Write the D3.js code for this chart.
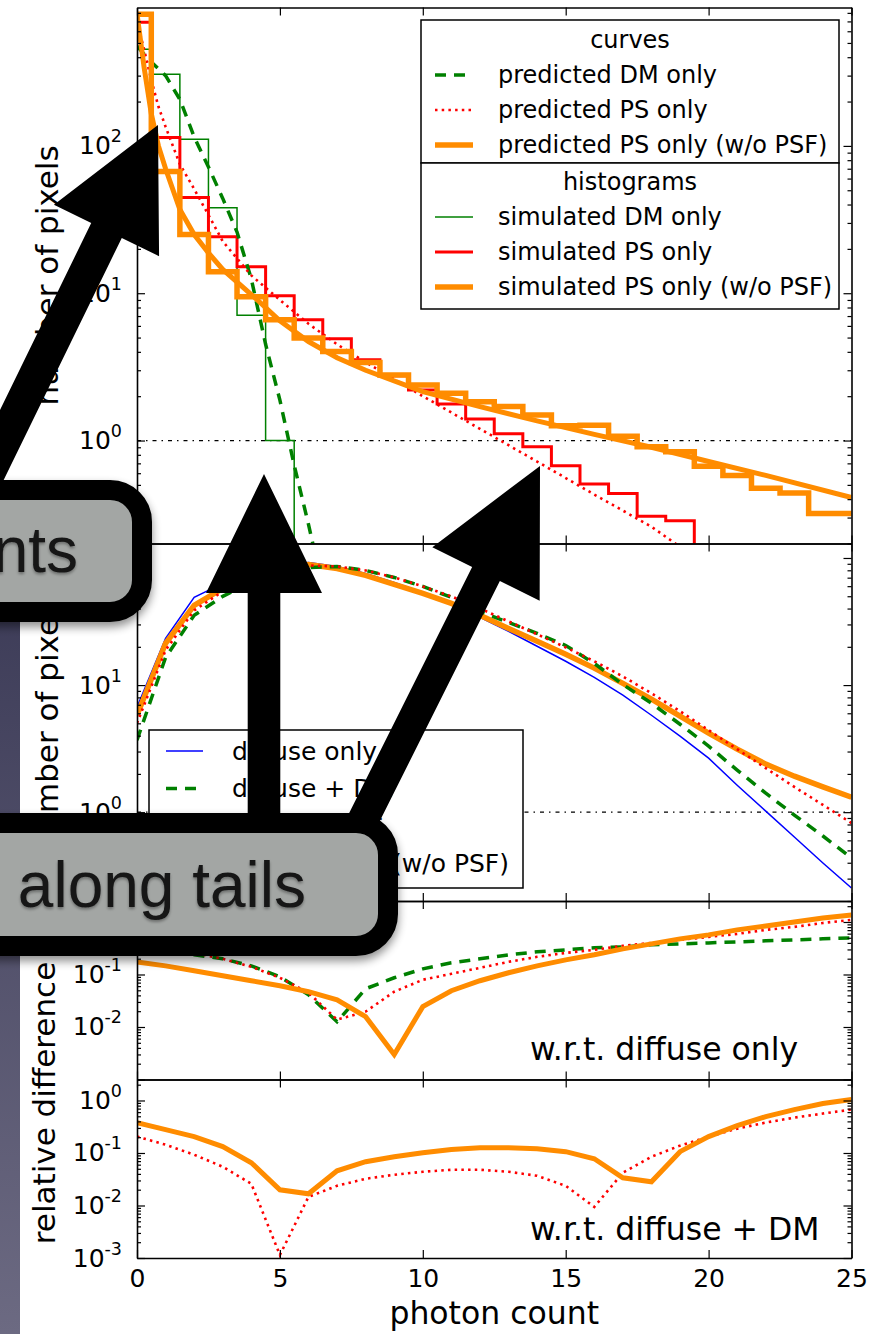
<!DOCTYPE html>
<html>
<head>
<meta charset="utf-8">
<script src="https://cdn.jsdelivr.net/npm/d3@7/dist/d3.min.js"></script>
<style>
  html, body { margin: 0; padding: 0; background: #fff; }
  svg { display: block; }
</style>
</head>
<body>
<script>
// ---------------- data ----------------
const countTicks = [0, 5, 10, 15, 20, 25];
const photonCount = d3.range(0, 26);

// simulated histograms, one value per integer photon-count bin
const histDMOnly  = [453, 306, 111, 38, 7.1, 1.0];
const histPSOnly  = [692, 114, 44.7, 24.2, 15.1, 9.6, 6.6, 4.9, 3.53, 2.75, 2.2, 1.77, 1.40, 1.11, 0.907, 0.674, 0.506, 0.437, 0.306, 0.285];
const histPSNoPSF = [784, 67.1, 25, 14, 9.47, 6.6, 4.97, 4.02, 3.38, 2.79, 2.38, 2.09, 1.83, 1.70, 1.49, 1.26, 1.27, 1.07, 0.907, 0.84, 0.67, 0.58, 0.474, 0.44, 0.32, 0.32];

// predicted curves for the single components
const predDMx = [0, 0.5, 1, 1.5, 2, 2.5, 3, 3.5, 4, 4.5, 5, 5.5, 6, 6.5];
const predDM  = [475, 371, 300, 207, 115, 72, 44, 26, 12.5, 4.5, 1.88, 0.68, 0.27, 0.1];
const predPSx = [0, 0.25, 0.5, 0.75, 1, 1.5, 2, 2.5, 3, 4, 5, 6, 7, 8, 10, 12, 14, 16, 18, 19];
const predPS  = [700, 450, 280, 185, 135, 75, 51, 34, 22.5, 13.2, 9.0, 6.2, 4.5, 3.4, 2.0, 1.2, 0.72, 0.43, 0.26, 0.19];
const predPSNoPSFx = [0, 0.1, 0.25, 0.5, 0.75, 1, 1.5, 2, 2.5, 3, 4, 5, 6, 7, 8, 10, 12, 14, 16, 18, 20, 22, 25];
const predPSNoPSF  = [790, 560, 340, 165, 100, 70, 37, 25, 18.8, 14.5, 9.8, 6.5, 4.7, 3.65, 3.0, 2.15, 1.7, 1.36, 1.1, 0.9, 0.72, 0.58, 0.41];

// combined maps (one value per photon count 0..25)
const diffuseOnly     = [6.69, 23.3, 49.0, 63.1, 76.9, 87.3, 92.2, 85.8, 75.5, 64.2, 53.6, 43.1, 34.1, 26.5, 20.2, 15.4, 11.5, 8.32, 5.79, 3.96, 2.66, 1.63, 1.02, 0.637, 0.398, 0.253];
const diffuseDM       = [3.69, 16.5, 35.4, 49.9, 64.2, 76.9, 84.2, 85.8, 79.8, 70.3, 59.7, 49.0, 38.0, 31.1, 25.5, 20.5, 14.8, 10.1, 7.20, 4.92, 3.31, 2.14, 1.41, 0.949, 0.649, 0.436];
const diffusePS       = [5.01, 18.8, 38.7, 54.6, 69.0, 81.2, 87.3, 85.8, 79.8, 70.3, 59.7, 49.9, 40.1, 31.7, 25.1, 19.8, 15.4, 11.7, 8.62, 6.23, 4.42, 3.13, 2.22, 1.58, 1.14, 0.821];
const diffusePSNoPSF  = [5.79, 21.3, 42.4, 57.6, 71.6, 84.2, 88.9, 82.7, 72.9, 61.9, 52.6, 43.9, 35.4, 27.9, 22.1, 17.5, 13.6, 10.3, 7.74, 5.69, 4.18, 3.13, 2.39, 1.92, 1.58, 1.31];

// relative differences w.r.t. diffuse only
const relD_DM       = [0.322, 0.282, 0.237, 0.199, 0.146, 0.0905, 0.0412, 0.0126, 0.0535, 0.0866, 0.128, 0.167, 0.199, 0.237, 0.270, 0.295, 0.322, 0.336, 0.367, 0.383, 0.400, 0.418, 0.437, 0.456, 0.477, 0.498];
const relD_PS       = [0.367, 0.322, 0.258, 0.199, 0.140, 0.0866, 0.0449, 0.0138, 0.0196, 0.047, 0.0793, 0.103, 0.134, 0.174, 0.217, 0.258, 0.295, 0.351, 0.400, 0.456, 0.520, 0.593, 0.707, 0.806, 0.960, 1.094];
const relD_PSNoPSF  = [0.174, 0.146, 0.118, 0.0945, 0.076, 0.061, 0.047, 0.033, 0.0157, 0.0030, 0.0244, 0.049, 0.076, 0.108, 0.146, 0.190, 0.237, 0.308, 0.383, 0.477, 0.568, 0.707, 0.842, 1.0, 1.19, 1.36];

// relative differences w.r.t. diffuse + DM
const relDM_PS      = [0.205, 0.144, 0.0927, 0.0547, 0.0259, 0.00114, 0.0146, 0.0237, 0.0323, 0.0385, 0.0439, 0.0479, 0.0479, 0.0439, 0.0368, 0.0237, 0.00942, 0.0420, 0.0849, 0.138, 0.205, 0.291, 0.379, 0.472, 0.563, 0.671];
const relDM_PSNoPSF = [0.379, 0.279, 0.205, 0.132, 0.0653, 0.0199, 0.0167, 0.0459, 0.0682, 0.0849, 0.101, 0.116, 0.126, 0.126, 0.121, 0.106, 0.0778, 0.0337, 0.0283, 0.106, 0.205, 0.332, 0.493, 0.671, 0.874, 1.04];

// y tick labels per panel
const countLabels = [1, 10, 100];
const relLabelsUpper = [1, 0.1, 0.01];
const relLabelsLower = [1, 0.1, 0.01, 0.001];

// ---------------- layout ----------------
const W = 889, H = 1334;
const FONT = "DejaVu Sans, Bitstream Vera Sans, sans-serif";
const COL = { green: "#008000", red: "#ff0000", orange: "#ff8c00", blue: "#0000ff" };

const svg = d3.select("body").append("svg").attr("width", W).attr("height", H);
const defs = svg.append("defs");

const x = d3.scaleLinear().domain([0, 25]).range([137, 851.5]);

const panels = [
  { top: 7.5,    bottom: 543.5,  dom: [0.2, 870],   labels: countLabels },
  { top: 543.5,  bottom: 901,    dom: [0.2, 130],   labels: countLabels },
  { top: 901,    bottom: 1079.5, dom: [1e-3, 2.51], labels: relLabelsUpper },
  { top: 1079.5, bottom: 1258,   dom: [1e-3, 2.51], labels: relLabelsLower }
];
panels.forEach((p, i) => {
  p.y = d3.scaleLog().domain(p.dom).range([p.bottom, p.top]);
  p.id = "clip" + i;
  defs.append("clipPath").attr("id", p.id).append("rect")
    .attr("x", x(0)).attr("y", p.top).attr("width", x(25) - x(0)).attr("height", p.bottom - p.top);
  p.g = svg.append("g");
  p.plot = p.g.append("g").attr("clip-path", `url(#${p.id})`);
});

function majorsIn(dom) {
  const out = [];
  for (let e = Math.floor(Math.log10(dom[0])); e <= Math.ceil(Math.log10(dom[1])); e++) {
    const v = Math.pow(10, e);
    if (v >= dom[0] * 0.999 && v <= dom[1] * 1.001) out.push(v);
  }
  return out;
}
function minorsIn(dom) {
  const out = [];
  for (let e = Math.floor(Math.log10(dom[0])) - 1; e <= Math.ceil(Math.log10(dom[1])); e++)
    for (let k = 2; k <= 9; k++) {
      const v = k * Math.pow(10, e);
      if (v >= dom[0] * 0.999 && v <= dom[1]) out.push(v);
    }
  return out;
}
const expOf = v => Math.round(Math.log10(v));

function styleAxis(g) {
  g.attr("font-family", FONT).attr("font-size", 25);
  g.select(".domain").attr("stroke", "#000").attr("stroke-width", 1.6);
  g.selectAll(".tick line").attr("stroke", "#000").attr("stroke-width", 1.2);
  g.selectAll(".tick text").attr("fill", "#000");
}

function drawAxes(p, withXLabels) {
  const lab = new Set(p.labels.map(expOf));
  const maj = majorsIn(p.dom), mnr = minorsIn(p.dom);

  const left = p.g.append("g").attr("transform", `translate(${x(0)},0)`)
    .call(d3.axisLeft(p.y).tickValues(maj).tickSize(-8).tickSizeOuter(0).tickPadding(15)
      .tickFormat(v => lab.has(expOf(v)) ? String(expOf(v)) : ""));
  styleAxis(left);
  left.selectAll(".tick text").each(function () {
    const t = d3.select(this), e = t.text();
    if (!e) return;
    t.text(null);
    t.append("tspan").text("10");
    t.append("tspan").attr("dy", -12).attr("font-size", 17.5).text(e);
  });
  const leftMinor = p.g.append("g").attr("transform", `translate(${x(0)},0)`)
    .call(d3.axisLeft(p.y).tickValues(mnr).tickSize(-4).tickFormat(""));
  leftMinor.select(".domain").remove();
  styleAxis(leftMinor);

  const right = p.g.append("g").attr("transform", `translate(${x(25)},0)`)
    .call(d3.axisRight(p.y).tickValues(maj).tickSize(-8).tickSizeOuter(0).tickFormat(""));
  styleAxis(right);
  const rightMinor = p.g.append("g").attr("transform", `translate(${x(25)},0)`)
    .call(d3.axisRight(p.y).tickValues(mnr).tickSize(-4).tickFormat(""));
  rightMinor.select(".domain").remove();
  styleAxis(rightMinor);

  const top = p.g.append("g").attr("transform", `translate(0,${p.top})`)
    .call(d3.axisTop(x).tickValues(countTicks).tickSize(-8).tickSizeOuter(0).tickFormat(""));
  styleAxis(top);
  const bottom = p.g.append("g").attr("transform", `translate(0,${p.bottom})`)
    .call(d3.axisBottom(x).tickValues(countTicks).tickSize(-8).tickSizeOuter(0).tickPadding(11)
      .tickFormat(withXLabels ? d3.format("d") : ""));
  styleAxis(bottom);
}

function series(p, xs, ys, style) {
  const line = d3.line().x(d => x(d[0])).y(d => p.y(d[1]));
  const path = p.plot.append("path").datum(xs.map((v, i) => [v, ys[i]]))
    .attr("d", line).attr("fill", "none")
    .attr("stroke", style.color).attr("stroke-width", style.width)
    .attr("stroke-linejoin", "miter").attr("stroke-linecap", "butt");
  if (style.dash) path.attr("stroke-dasharray", style.dash);
  return path;
}
function stepHist(p, vals, style) {
  const pts = [];
  vals.forEach((v, i) => { pts.push([i - 0.5, v], [i + 0.5, v]); });
  pts.push([vals.length - 0.5, p.dom[0] / 10]);
  const line = d3.line().x(d => x(d[0])).y(d => p.y(d[1]));
  p.plot.append("path").datum(pts).attr("d", line).attr("fill", "none")
    .attr("stroke", style.color).attr("stroke-width", style.width).attr("stroke-linejoin", "miter");
}
function unityLine(p) {
  p.plot.append("line").attr("x1", x(0)).attr("x2", x(25))
    .attr("y1", p.y(1)).attr("y2", p.y(1))
    .attr("stroke", "#000").attr("stroke-width", 1.3).attr("stroke-dasharray", "4,5,1.5,5");
}

const S = {
  dmDash:   { color: COL.green,  width: 3.5, dash: "11,8" },
  psDot:    { color: COL.red,    width: 2.6, dash: "2.5,4.2" },
  psNoPSF:  { color: COL.orange, width: 5.5 },
  histDM:   { color: COL.green,  width: 1.5 },
  histPS:   { color: COL.red,    width: 3 },
  histNo:   { color: COL.orange, width: 5.5 },
  diffuse:  { color: COL.blue,   width: 1.5 }
};

// ---- panel 1: single components ----
const P1 = panels[0];
unityLine(P1);
stepHist(P1, histDMOnly, S.histDM);
stepHist(P1, histPSOnly, S.histPS);
series(P1, predDMx, predDM, S.dmDash);
series(P1, predPSx, predPS, S.psDot);
series(P1, predPSNoPSFx, predPSNoPSF, { color: COL.orange, width: 5 });
stepHist(P1, histPSNoPSF, S.histNo);
drawAxes(P1, false);

// ---- panel 2: combined maps ----
const P2 = panels[1];
unityLine(P2);
series(P2, photonCount, diffuseOnly, S.diffuse);
series(P2, photonCount, diffusePSNoPSF, S.psNoPSF);
series(P2, photonCount, diffuseDM, S.dmDash);
series(P2, photonCount, diffusePS, S.psDot);
drawAxes(P2, false);

// ---- panel 3: relative difference w.r.t. diffuse only ----
const P3 = panels[2];
series(P3, photonCount, relD_DM, S.dmDash);
series(P3, photonCount, relD_PS, S.psDot);
series(P3, photonCount, relD_PSNoPSF, { color: COL.orange, width: 5 });
drawAxes(P3, false);

// ---- panel 4: relative difference w.r.t. diffuse + DM ----
const P4 = panels[3];
series(P4, photonCount, relDM_PS, S.psDot);
series(P4, photonCount, relDM_PSNoPSF, { color: COL.orange, width: 5 });
drawAxes(P4, true);

// ---- legends ----
function legendBox(g, x0, y0, x1, y1) {
  g.append("rect").attr("x", x0).attr("y", y0).attr("width", x1 - x0).attr("height", y1 - y0)
    .attr("fill", "#fff").attr("stroke", "#000").attr("stroke-width", 1.5);
}
function legendItem(g, yc, label, style, lx0, lx1, tx, fs) {
  const l = g.append("line").attr("x1", lx0).attr("x2", lx1).attr("y1", yc).attr("y2", yc)
    .attr("stroke", style.color).attr("stroke-width", style.width);
  if (style.dash) l.attr("stroke-dasharray", style.dash);
  g.append("text").attr("x", tx).attr("y", yc).attr("dy", "0.35em")
    .attr("font-family", FONT).attr("font-size", fs).text(label);
}
const lg1 = svg.append("g");
legendBox(lg1, 421, 20, 839, 163);
legendBox(lg1, 421, 163, 839, 309);
lg1.append("text").attr("x", 630).attr("y", 40).attr("dy", "0.35em").attr("text-anchor", "middle")
  .attr("font-family", FONT).attr("font-size", 24).text("curves");
lg1.append("text").attr("x", 630).attr("y", 182).attr("dy", "0.35em").attr("text-anchor", "middle")
  .attr("font-family", FONT).attr("font-size", 24).text("histograms");
[
  [75, "predicted DM only", S.dmDash],
  [110, "predicted PS only", S.psDot],
  [145, "predicted PS only (w/o PSF)", S.psNoPSF],
  [217, "simulated DM only", S.histDM],
  [252, "simulated PS only", S.histPS],
  [287, "simulated PS only (w/o PSF)", S.histNo]
].forEach(d => legendItem(lg1, d[0], d[1], d[2], 435, 473, 498, 24));

const lg2 = svg.append("g");
legendBox(lg2, 149, 730, 523, 888);
[
  [751, "diffuse only", S.diffuse],
  [788.5, "diffuse + DM", S.dmDash],
  [826, "diffuse + PS", S.psDot],
  [863.5, "diffuse + PS (w/o PSF)", S.psNoPSF]
].forEach(d => legendItem(lg2, d[0], d[1], d[2], 166, 203, 232, 25));

// ---- annotations & axis labels ----
svg.append("text").attr("x", 530).attr("y", 1060).attr("font-family", FONT).attr("font-size", 31.5)
  .text("w.r.t. diffuse only");
svg.append("text").attr("x", 530).attr("y", 1240).attr("font-family", FONT).attr("font-size", 31.5)
  .text("w.r.t. diffuse + DM");
svg.append("text").attr("x", (x(0) + x(25)) / 2).attr("y", 1324).attr("text-anchor", "middle")
  .attr("font-family", FONT).attr("font-size", 31.5).text("photon count");
[
  [58, (P1.top + P1.bottom) / 2, "number of pixels"],
  [58, (P2.top + P2.bottom) / 2, "number of pixels"],
  [55, 1103, "relative difference"]
].forEach(d => svg.append("text").attr("transform", `translate(${d[0]},${d[1]}) rotate(-90)`)
  .attr("text-anchor", "middle").attr("font-family", FONT).attr("font-size", 31).text(d[2]));

// ---- slide overlay: side strip, arrows and callouts ----
const grad = defs.append("linearGradient").attr("id", "strip").attr("x1", 0).attr("y1", 0).attr("x2", 0).attr("y2", 1);
grad.append("stop").attr("offset", 0).attr("stop-color", "#3b3a56");
grad.append("stop").attr("offset", 1).attr("stop-color", "#6c6a82");
svg.append("rect").attr("x", 0).attr("y", 560).attr("width", 20).attr("height", H - 560).attr("fill", "url(#strip)");

const sh = defs.append("filter").attr("id", "shadow").attr("x", "-20%").attr("y", "-30%").attr("width", "140%").attr("height", "170%");
sh.append("feGaussianBlur").attr("in", "SourceAlpha").attr("stdDeviation", 5);
sh.append("feOffset").attr("dx", 0).attr("dy", 5).attr("result", "o");
sh.append("feComponentTransfer").append("feFuncA").attr("type", "linear").attr("slope", 0.45);
const m = sh.append("feMerge");
m.append("feMergeNode");
m.append("feMergeNode").attr("in", "SourceGraphic");

const tsh = defs.append("filter").attr("id", "tshadow").attr("x", "-10%").attr("y", "-20%").attr("width", "120%").attr("height", "150%");
tsh.append("feGaussianBlur").attr("in", "SourceAlpha").attr("stdDeviation", 1.5);
tsh.append("feOffset").attr("dx", 0).attr("dy", 2);
tsh.append("feComponentTransfer").append("feFuncA").attr("type", "linear").attr("slope", 0.35);
const m2 = tsh.append("feMerge");
m2.append("feMergeNode");
m2.append("feMergeNode").attr("in", "SourceGraphic");

const arrows = [
  { tip: [158, 125], base: [106.5, 230.5], head: 58.5, shaft: 17, tail: 330 },
  { tip: [264, 474], base: [264, 593],     head: 58,   shaft: 16.3, tail: 260 },
  { tip: [540, 466], base: [486, 574],     head: 60,   shaft: 15.5, tail: 290 }
];
arrows.forEach(a => {
  const dx = a.tip[0] - a.base[0], dy = a.tip[1] - a.base[1], L = Math.hypot(dx, dy);
  const u = [dx / L, dy / L], n = [-u[1], u[0]];
  const P = (s, t) => [a.base[0] + s * u[0] + t * n[0], a.base[1] + s * u[1] + t * n[1]];
  const pts = [a.tip, P(0, a.head), P(0, a.shaft), P(-a.tail, a.shaft), P(-a.tail, -a.shaft), P(0, -a.shaft), P(0, -a.head)];
  svg.append("polygon").attr("points", pts.map(q => q.join(",")).join(" ")).attr("fill", "#000");
});

const callouts = [
  { text: "nts",         x: -60, y: 490, w: 202, h: 122, tx: 78,  ty: 572 },
  { text: "along tails", x: -60, y: 823, w: 448, h: 123, tx: 306, ty: 907 }
];
callouts.forEach(c => {
  svg.append("rect").attr("x", c.x).attr("y", c.y).attr("width", c.w).attr("height", c.h)
    .attr("rx", 32).attr("ry", 32).attr("fill", "#a3a6a4").attr("stroke", "#000").attr("stroke-width", 20)
    .attr("filter", "url(#shadow)");
  svg.append("text").attr("x", c.tx).attr("y", c.ty).attr("text-anchor", "end")
    .attr("font-family", "Liberation Sans, Arial, sans-serif").attr("font-size", 64)
    .attr("fill", "#141414").attr("filter", "url(#tshadow)").text(c.text);
});
</script>
</body>
</html>
